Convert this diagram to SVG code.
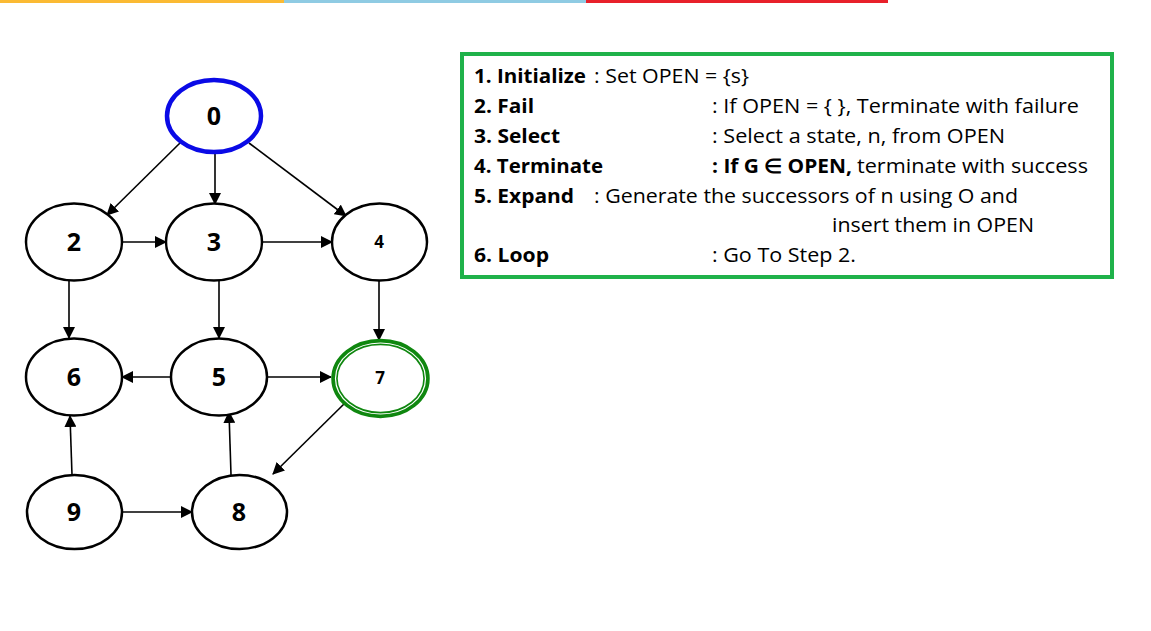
<svg xmlns="http://www.w3.org/2000/svg" width="1151" height="631" viewBox="0 0 1151 631">
<defs>
<style>
.node{fill:#fff;stroke:#000;stroke-width:2.5}
.lbl{font-family:"Open Sans","Liberation Sans",sans-serif;font-weight:bold;font-size:25px;text-anchor:middle;fill:#000}
.sm{font-size:17px}
.edge{stroke:#000;stroke-width:1.6;fill:none;marker-end:url(#ah)}
.t{font-family:"Open Sans","Liberation Sans",sans-serif;font-size:20px;fill:#000}
.b{font-weight:bold}
</style>
<marker id="ah" viewBox="0 0 12 12" refX="11" refY="6" markerWidth="12" markerHeight="12" markerUnits="userSpaceOnUse" orient="auto">
<path d="M0,0 L12,6 L0,12 Z" fill="#000"/>
</marker>
</defs>
<rect width="1151" height="631" fill="#fff"/>
<g id="topbar">
<rect x="0" y="0" width="284" height="3" fill="#FBBA33"/>
<rect x="284" y="0" width="302" height="3" fill="#8FCBE3"/>
<rect x="586" y="0" width="302" height="3" fill="#E8202A"/>
</g>
<g id="connectors">
<line class="edge" x1="180" y1="143" x2="107" y2="215"/>
<line class="edge" x1="215" y1="154" x2="215" y2="204"/>
<line class="edge" x1="249" y1="143" x2="346" y2="216"/>
<line class="edge" x1="123" y1="242" x2="166" y2="242"/>
<line class="edge" x1="262" y1="242" x2="332" y2="242"/>
<line class="edge" x1="69" y1="281" x2="69" y2="338"/>
<line class="edge" x1="219" y1="281" x2="219" y2="338"/>
<line class="edge" x1="379" y1="281" x2="379" y2="340"/>
<line class="edge" x1="171" y1="377" x2="122" y2="377"/>
<line class="edge" x1="267" y1="377" x2="331" y2="377"/>
<line class="edge" x1="345" y1="403" x2="273" y2="474"/>
<line class="edge" x1="72" y1="475" x2="70" y2="416"/>
<line class="edge" x1="231" y1="475" x2="229" y2="412"/>
<line class="edge" x1="122" y1="512" x2="192" y2="512"/>
</g>
<g id="node0"><ellipse cx="214" cy="116" rx="47" ry="36" fill="#fff" stroke="#0A0AE6" stroke-width="4.5"/><text class="lbl" x="214" y="125">0</text></g>
<g id="node2"><ellipse class="node" cx="74" cy="242" rx="48" ry="38.5"/><text class="lbl" x="74" y="251">2</text></g>
<g id="node3"><ellipse class="node" cx="214" cy="242" rx="48" ry="38.5"/><text class="lbl" x="214" y="251">3</text></g>
<g id="node4"><ellipse class="node" cx="379.5" cy="242" rx="47.5" ry="38.5"/><text class="lbl sm" x="379" y="248">4</text></g>
<g id="node6"><ellipse class="node" cx="74" cy="377" rx="48" ry="38.5"/><text class="lbl" x="74" y="386">6</text></g>
<g id="node5"><ellipse class="node" cx="219" cy="377" rx="48" ry="38.5"/><text class="lbl" x="219" y="386">5</text></g>
<g id="node7"><ellipse cx="380.5" cy="378.5" rx="46" ry="36.5" fill="#fff" stroke="#0F870F" stroke-width="6.5"/><ellipse cx="380.5" cy="378.5" rx="45" ry="35.5" fill="none" stroke="#fff" stroke-width="1.2"/><text class="lbl sm" x="380" y="384">7</text></g>
<g id="node9"><ellipse class="node" cx="74.5" cy="512" rx="47.5" ry="37"/><text class="lbl" x="74" y="521">9</text></g>
<g id="node8"><ellipse class="node" cx="239.5" cy="512" rx="47.5" ry="37"/><text class="lbl" x="239" y="521">8</text></g>
<g id="steps">
<rect x="462" y="54" width="650" height="223" fill="#fff" stroke="#1FB24A" stroke-width="4"/>
<text class="t b" x="474" y="83" textLength="112" lengthAdjust="spacingAndGlyphs">1. Initialize</text>
<text class="t" x="594" y="83" textLength="155" lengthAdjust="spacingAndGlyphs">: Set OPEN = {s}</text>
<text class="t b" x="474" y="113" textLength="60" lengthAdjust="spacingAndGlyphs">2. Fail</text>
<text class="t" x="712" y="113" textLength="367" lengthAdjust="spacingAndGlyphs">: If OPEN = { }, Terminate with failure</text>
<text class="t b" x="474" y="143" textLength="86" lengthAdjust="spacingAndGlyphs">3. Select</text>
<text class="t" x="712" y="143" textLength="293" lengthAdjust="spacingAndGlyphs">: Select a state, n, from OPEN</text>
<text class="t b" x="474" y="173" textLength="129" lengthAdjust="spacingAndGlyphs">4. Terminate</text>
<text class="t b" x="712" y="173" textLength="140" lengthAdjust="spacingAndGlyphs">: If G ∈ OPEN,</text>
<text class="t" x="857" y="173" textLength="231" lengthAdjust="spacingAndGlyphs">terminate with success</text>
<text class="t b" x="474" y="203" textLength="100" lengthAdjust="spacingAndGlyphs">5. Expand</text>
<text class="t" x="594" y="203" textLength="424" lengthAdjust="spacingAndGlyphs">: Generate the successors of n using O and</text>
<text class="t" x="832" y="232" textLength="202" lengthAdjust="spacingAndGlyphs">insert them in OPEN</text>
<text class="t b" x="474" y="262" textLength="75" lengthAdjust="spacingAndGlyphs">6. Loop</text>
<text class="t" x="712" y="262" textLength="144" lengthAdjust="spacingAndGlyphs">: Go To Step 2.</text>
</g>
</svg>
